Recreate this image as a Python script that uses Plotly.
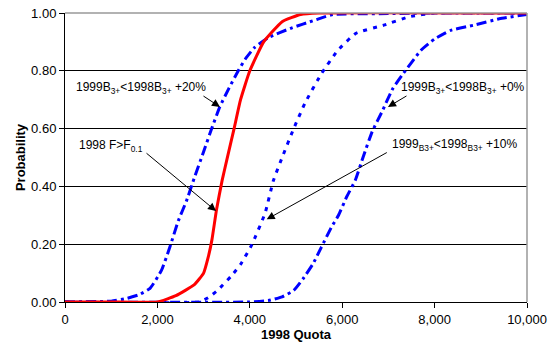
import plotly.graph_objects as go

# 1998 F > F0.1 (red solid)
red_x = [0, 1000, 2000, 2400, 2800, 3000, 3100, 3180, 3280, 3400, 3500, 3660, 3800, 4000, 4300, 4700, 5100, 5500, 10000]
red_y = [0, 0, 0, 0.022, 0.06, 0.10, 0.155, 0.215, 0.32, 0.42, 0.49, 0.60, 0.70, 0.80, 0.90, 0.97, 0.995, 1.0, 1.0]

# 1999B3+ < 1998B3+ +20% (blue dash-dot)
p20_x = [0, 1000, 1350, 1600, 1840, 2090, 2270, 2450, 2630, 2800, 3000, 3175, 3350, 3550, 3750, 3900, 4100, 4400, 4900, 5400, 5800, 7000, 8000, 10000]
p20_y = [0, 0.003, 0.013, 0.025, 0.047, 0.11, 0.19, 0.28, 0.35, 0.43, 0.52, 0.60, 0.675, 0.74, 0.80, 0.84, 0.88, 0.915, 0.948, 0.975, 0.995, 0.998, 1.0, 1.0]

# 1999B3+ < 1998B3+ +10% (blue dotted)
p10_x = [0, 2900, 3100, 3300, 3600, 3800, 4040, 4330, 4510, 4700, 4950, 5200, 5550, 5900, 6300, 6900, 7450, 8000, 10000]
p10_y = [0, 0, 0.015, 0.04, 0.09, 0.13, 0.197, 0.307, 0.42, 0.50, 0.60, 0.69, 0.79, 0.87, 0.93, 0.958, 0.987, 1.0, 1.0]

# 1999B3+ < 1998B3+ +0% (blue dash-dot)
p0_x = [0, 4000, 4400, 4700, 4950, 5150, 5375, 5550, 5770, 5920, 6100, 6280, 6450, 6650, 6860, 7100, 7320, 7700, 8000, 8350, 8850, 9400, 10000]
p0_y = [0, 0, 0.005, 0.018, 0.04, 0.08, 0.134, 0.19, 0.26, 0.30, 0.365, 0.42, 0.50, 0.59, 0.658, 0.74, 0.79, 0.87, 0.91, 0.94, 0.958, 0.98, 0.995]

x_ticks = [0, 2000, 4000, 6000, 8000, 10000]
x_labels = ["0", "2,000", "4,000", "6,000", "8,000", "10,000"]
y_ticks = [0, 0.2, 0.4, 0.6, 0.8, 1.0]
y_labels = ["0.00", "0.20", "0.40", "0.60", "0.80", "1.00"]

BLUE = "#0000FF"
RED = "#FF0000"
FONT = "Liberation Sans, Arial, sans-serif"

fig = go.Figure()
fig.add_trace(go.Scatter(x=p20_x, y=p20_y, mode="lines", line=dict(color=BLUE, width=3, dash="10px,4px,3px,4px", shape="spline", smoothing=0.4)))
fig.add_trace(go.Scatter(x=p10_x, y=p10_y, mode="lines", line=dict(color=BLUE, width=3, dash="4px,6px", shape="spline", smoothing=0.4)))
fig.add_trace(go.Scatter(x=p0_x, y=p0_y, mode="lines", line=dict(color=BLUE, width=3, dash="10px,4px,3px,4px", shape="spline", smoothing=0.4)))
fig.add_trace(go.Scatter(x=red_x, y=red_y, mode="lines", line=dict(color=RED, width=3, shape="spline", smoothing=0.4)))

labels = [
    # text, text_x, text_y, tail_x, tail_y, head_x, head_y
    ("1999B<sub>3+</sub>&lt;1998B<sub>3+</sub> +20%", 1645, 0.740, 2965, 0.716, 3355, 0.675),
    ("1998 F&gt;F<sub>0.1</sub>", 996, 0.540, 1732, 0.519, 3268, 0.315),
    ("1999B<sub>3+</sub>&lt;1998B<sub>3+</sub> +0%", 8615, 0.740, 7424, 0.716, 6991, 0.675),
    ("1999<sub>B3+</sub>&lt;1998<sub>B3+</sub> +10%", 8420, 0.543, 6998, 0.520, 4366, 0.286),
]
for text, tx, ty, ax, ay, hx, hy in labels:
    fig.add_annotation(x=tx, y=ty, xref="x", yref="y", text=text, showarrow=False,
                       font=dict(family=FONT, size=12, color="black"))
    fig.add_annotation(x=hx, y=hy, ax=ax, ay=ay, xref="x", yref="y", axref="x", ayref="y",
                       text="", showarrow=True, arrowhead=2, arrowsize=1.6, arrowwidth=1,
                       arrowcolor="black", standoff=0, startstandoff=0)

fig.add_shape(type="line", xref="paper", yref="paper", x0=0, x1=1, y0=1, y1=1,
              line=dict(color="#999999", width=1.5))
fig.add_shape(type="line", xref="paper", yref="paper", x0=1, x1=1, y0=0, y1=1,
              line=dict(color="#999999", width=1.5))

fig.update_layout(
    width=549, height=344,
    margin=dict(l=65, r=22, t=13, b=42),
    paper_bgcolor="white", plot_bgcolor="white",
    showlegend=False,
    font=dict(family=FONT, size=13, color="black"),
)
fig.update_xaxes(range=[0, 10000], tickvals=x_ticks, ticktext=x_labels, automargin=False,
                 showgrid=False, zeroline=False, showline=True, linecolor="black", linewidth=1,
                 ticks="outside", ticklen=5, tickcolor="black",
                 title=dict(text="<b>1998 Quota</b>", font=dict(size=13), standoff=0))
fig.update_yaxes(range=[0, 1.0], tickvals=y_ticks, ticktext=y_labels, automargin=False,
                 showgrid=True, gridcolor="black", gridwidth=1, zeroline=False,
                 showline=True, linecolor="black", linewidth=1,
                 ticks="outside", ticklen=5, tickcolor="black",
                 title=dict(text="<b>Probability</b>", font=dict(size=13), standoff=2))

fig.write_html("out.html", config={"displayModeBar": False},
               post_script="document.body.style.margin='0';document.body.style.overflow='hidden';")
